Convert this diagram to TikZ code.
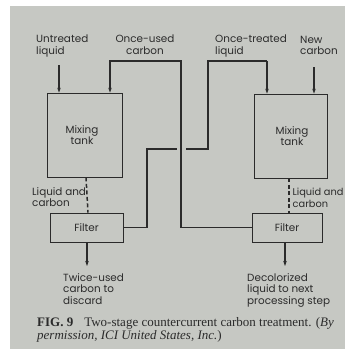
\documentclass[tikz,border=0pt]{standalone}
\usepackage{fontspec}
\setmainfont{Liberation Serif}
\newfontfamily\labelfont{Poppins}
\usepackage{tikz}
\usepackage{xcolor}
\usetikzlibrary{arrows.meta,positioning,calc}
\definecolor{paper}{HTML}{C6C8C3}
\definecolor{ink}{HTML}{2B2B2B}

\begin{document}
\begin{tikzpicture}[x=1pt,y=-1pt,
  vessel/.style={draw=ink,line width=0.8pt,inner sep=0pt},
  pipe/.style={draw=ink,line width=1.2pt},
  feed/.style={pipe,-{Stealth[length=5pt,width=3.5pt]}},
  slurry/.style={draw=ink,line width=1.5pt,dash pattern=on 4pt off 2.5pt},
  lbl/.style={font=\labelfont\fontsize{10.4}{11.5}\selectfont,text=ink,inner sep=0pt,align=left}]
\useasboundingbox (0,0) rectangle (345,349);
\clip (0,0) rectangle (345,349);
\fill[white] (0,0) rectangle (345,349);
\fill[paper] (10,6) rectangle (345,349);
% vessels
\node[vessel,minimum width=75pt,minimum height=84pt] (ltank) at (84.5,135) {};
\node[vessel,minimum width=73pt,minimum height=84pt] (rtank) at (290.5,136) {};
\node[vessel,minimum width=73pt,minimum height=29pt] (lfilter) at (86.5,227.5) {};
\node[vessel,minimum width=70pt,minimum height=29pt] (rfilter) at (287,227.5) {};
\node[lbl,align=center] at (82,135) {Mixing\\tank};
\node[lbl,align=center] at (292,136) {Mixing\\tank};
\node[lbl] at (lfilter) {Filter};
\node[lbl] at (rfilter) {Filter};
% labels
\node[lbl,anchor=north west] (untreated) at (36,35) {Untreated\\liquid};
\node[lbl,anchor=north,align=center] (onceused) at (145,35) {Once-used\\carbon};
\node[lbl,anchor=north west] (oncetreated) at (215,35) {Once-treated\\liquid};
\node[lbl,anchor=north west] (newcarbon) at (300,36) {New\\carbon};
\node[lbl,anchor=north west] (lslurry) at (32,187) {Liquid and\\carbon};
\node[lbl,anchor=north west,font=\labelfont\fontsize{9.8}{11.5}\selectfont] (rslurry) at (292.5,188) {Liquid and\\carbon};
\node[lbl,anchor=north west] (discard) at (63,273) {Twice-used\\carbon to\\discard};
\node[lbl,anchor=north west] (product) at (247,273) {Decolorized\\liquid to next\\processing step};
% feeds
\coordinate (uin) at (59,65);
\coordinate (nin) at (314,67);
\draw[feed] (uin) -- (uin |- ltank.north);
\draw[feed] (nin) -- (nin |- rtank.north);
\draw[slurry] ([xshift=1.5pt]ltank.south) -- ([xshift=1.5pt]lfilter.north);
\draw[slurry] ([xshift=-1.5pt]rtank.south) -- ([xshift=2pt]rfilter.north);
\coordinate (lout) at (87,266);
\coordinate (rout) at (285,266);
\draw[feed] (lout |- lfilter.south) -- (lout);
\draw[feed] (rout |- rfilter.south) -- (rout);
% once-treated liquid to second stage
\draw[pipe] (lfilter.east) -| (147,149) -- (208,149) |- (267,61);
\draw[feed] (267,61) -- (267,0 |- rtank.north);
\fill[paper] (176.5,146) rectangle (185.5,152);
% once-used carbon back to first stage
\draw[pipe] (rfilter.west) -| (181,61) -| (110,70);
\draw[feed] (110,69) -- (110,0 |- ltank.north);
% caption
\node[anchor=north west,inner sep=0pt,align=left,text=ink,
  font=\fontsize{13}{13.6}\selectfont] (caption) at (37,317)
  {\textbf{FIG. 9}\hspace{11pt}Two-stage countercurrent carbon treatment. (\textit{By}\\
   \textit{permission, ICI United States, Inc.})};
\end{tikzpicture}
\end{document}
